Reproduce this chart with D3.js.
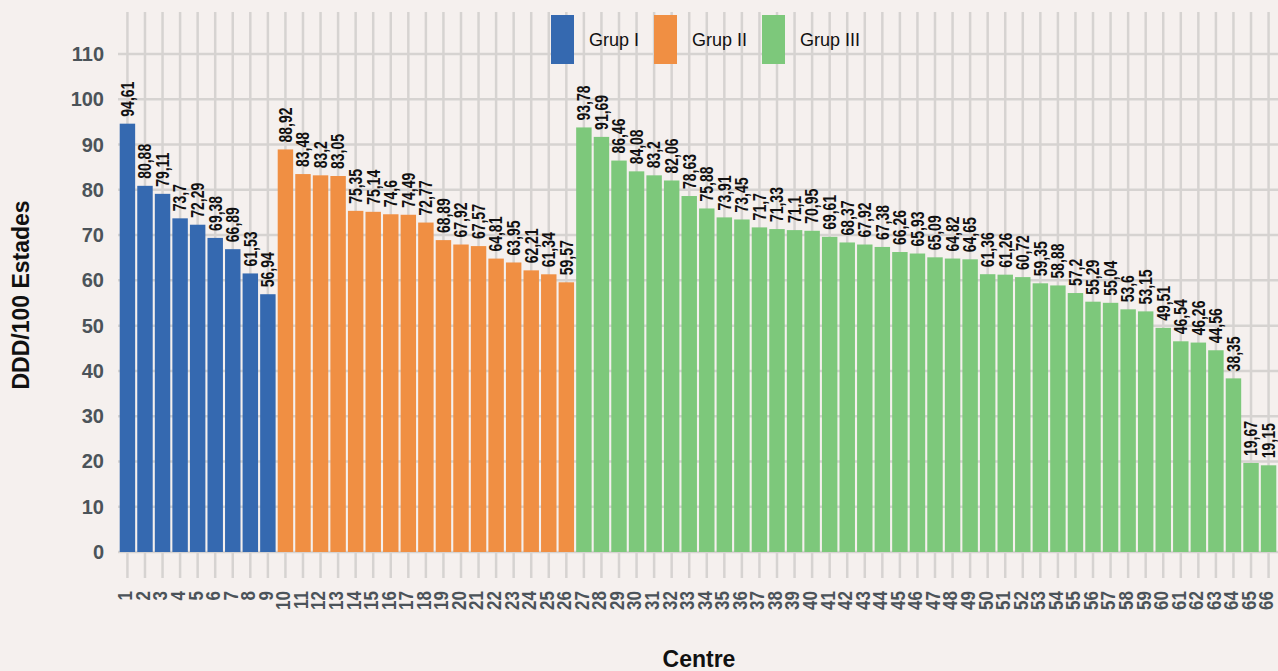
<!DOCTYPE html>
<html><head><meta charset="utf-8">
<script src="https://cdn.jsdelivr.net/npm/d3@7"></script>
<style>
html,body{margin:0;padding:0;background:#f5f0ee;}
svg{display:block;font-family:"Liberation Sans",Arial,sans-serif;}
</style></head><body>
<svg id="chart" width="1278" height="671"></svg>
<script>
const centres = d3.range(1, 67).map(String);
const grupI = [94.61, 80.88, 79.11, 73.7, 72.29, 69.38, 66.89, 61.53, 56.94];
const grupII = [88.92, 83.48, 83.2, 83.05, 75.35, 75.14, 74.6, 74.49, 72.77, 68.89, 67.92, 67.57, 64.81, 63.95, 62.21, 61.34, 59.57];
const grupIII = [93.78, 91.69, 86.46, 84.08, 83.2, 82.06, 78.63, 75.88, 73.91, 73.45, 71.7, 71.33, 71.1, 70.95, 69.61, 68.37, 67.92, 67.38, 66.26, 65.93, 65.09, 64.82, 64.65, 61.36, 61.26, 60.72, 59.35, 58.88, 57.2, 55.29, 55.04, 53.6, 53.15, 49.51, 46.54, 46.26, 44.56, 38.35, 19.67, 19.15];
const groupNames = ["Grup I", "Grup II", "Grup III"];
const groupColors = ["#3569b0", "#f08f43", "#7dc87b"];
const yTicks = [0, 10, 20, 30, 40, 50, 60, 70, 80, 90, 100, 110];

const data = [];
[grupI, grupII, grupIII].forEach((arr, g) => arr.forEach(v => data.push({g, v})));
data.forEach((d, i) => d.c = centres[i]);

const svg = d3.select("#chart");
const x = d3.scaleBand().domain(centres).range([119, 1277]).paddingInner(0.12).paddingOuter(0.04);
const y = d3.scaleLinear().domain([0, 110]).range([552, 54]);
const gridCol = "#d6d3d1";

// vertical grid
svg.append("g").selectAll("line").data(centres).join("line")
  .attr("x1", d => x(d) + x.bandwidth()/2).attr("x2", d => x(d) + x.bandwidth()/2)
  .attr("y1", 12).attr("y2", 578)
  .attr("stroke", gridCol).attr("stroke-width", 2.5);
// horizontal grid
svg.append("g").selectAll("line").data(yTicks).join("line")
  .attr("x1", 118).attr("x2", 1278)
  .attr("y1", d => y(d)).attr("y2", d => y(d))
  .attr("stroke", gridCol).attr("stroke-width", 2.5);

// y tick labels
svg.append("g").selectAll("text").data(yTicks).join("text")
  .attr("x", 104).attr("y", d => y(d)).attr("dy", "0.35em")
  .attr("text-anchor", "end").attr("font-size", 20).attr("font-weight", "bold")
  .attr("fill", "#4b5359").text(d => d);

// x tick labels
svg.append("g").selectAll("text").data(centres).join("text")
  .attr("transform", d => `translate(${x(d) + x.bandwidth()/2},591) rotate(-90) scale(1,1.15)`)
  .attr("dy", "0.25em").attr("text-anchor", "end")
  .attr("font-size", 17).attr("font-weight", "bold").attr("fill", "#4b5359")
  .text(d => d);

// bars
svg.append("g").selectAll("rect").data(data).join("rect")
  .attr("x", d => x(d.c)).attr("width", x.bandwidth())
  .attr("y", d => y(d.v)).attr("height", d => y(0) - y(d.v))
  .attr("fill", d => groupColors[d.g]);

// value labels
svg.append("g").selectAll("text").data(data).join("text")
  .attr("transform", d => `translate(${x(d.c) + x.bandwidth()/2},${y(d.v) - 7}) rotate(-90) scale(1,1.3)`)
  .attr("dy", "0.35em").attr("text-anchor", "start")
  .attr("font-size", 14).attr("font-weight", "bold").attr("fill", "#111")
  .text(d => String(d.v).replace(".", ","));

// legend
const legX = [551, 654, 762];
const leg = svg.append("g");
groupNames.forEach((n, i) => {
  leg.append("rect").attr("x", legX[i]).attr("y", 15).attr("width", 23).attr("height", 49).attr("fill", groupColors[i]);
  leg.append("text").attr("x", legX[i] + 38).attr("y", 40).attr("dy", "0.35em")
    .attr("font-size", 18).attr("fill", "#111").text(n);
});

// axis titles
svg.append("text").attr("transform", "translate(21,295) rotate(-90)")
  .attr("text-anchor", "middle").attr("dy", "0.35em")
  .attr("font-size", 23).attr("font-weight", "bold").attr("fill", "#111")
  .text("DDD/100 Estades");
svg.append("text").attr("x", 699).attr("y", 667)
  .attr("text-anchor", "middle")
  .attr("font-size", 23).attr("font-weight", "bold").attr("fill", "#111")
  .text("Centre");
</script>
</body></html>
